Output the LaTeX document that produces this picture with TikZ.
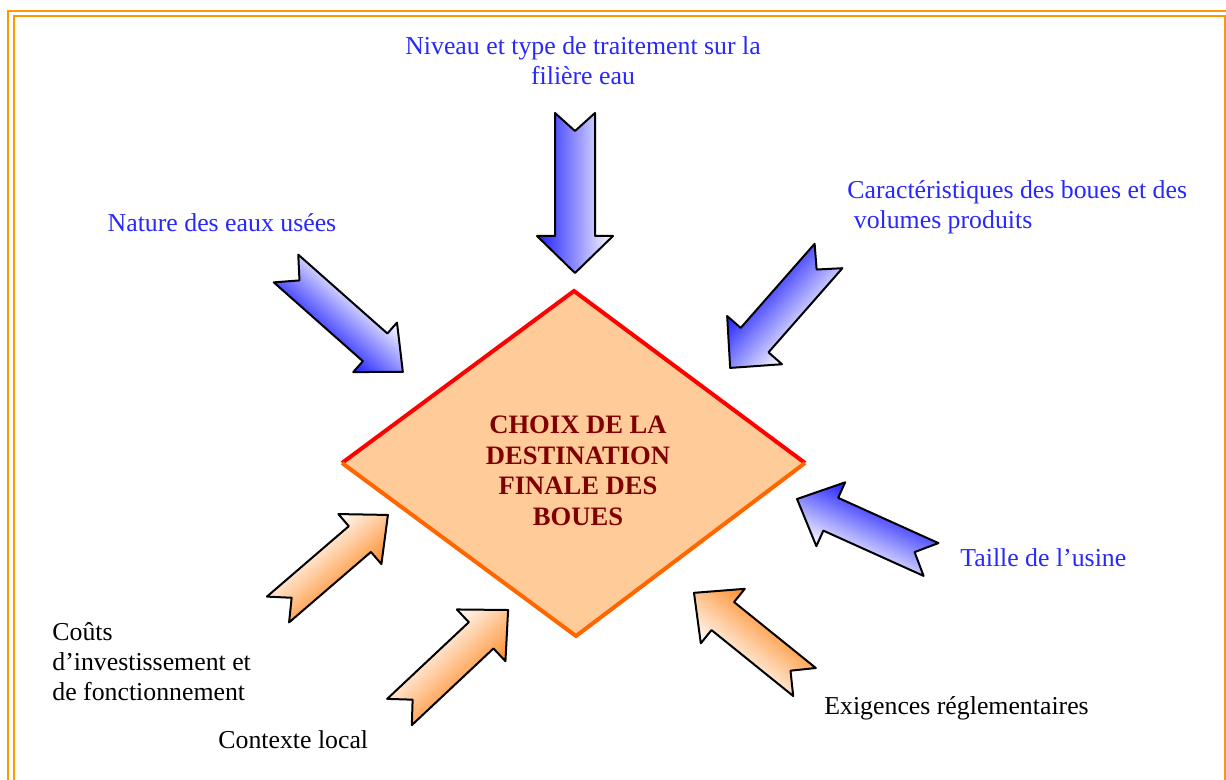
\documentclass[tikz,border=0pt]{standalone}
\usepackage{fontspec}
\setmainfont{Liberation Serif}
\definecolor{cadre}{RGB}{255,153,0}
\definecolor{bleutexte}{RGB}{40,40,250}
\definecolor{bleufleche}{RGB}{30,30,255}
\definecolor{orangefleche}{RGB}{255,140,40}
\definecolor{peche}{RGB}{255,204,153}
\definecolor{rougebord}{RGB}{255,0,0}
\definecolor{orangebord}{RGB}{255,102,0}
\definecolor{rougetitre}{RGB}{128,0,0}
\tikzset{
  cadre/.style={draw=cadre, line width=1.3pt},
  flechebleue/.style={draw=black, line width=1pt, line join=round,
    top color=white, bottom color=bleufleche},
  flecheorange/.style={draw=black, line width=1pt, line join=round,
    top color=white, bottom color=orangefleche},
  etiquette/.style={inner sep=0pt, font=\fontsize{12.9}{15}\selectfont},
  bleu/.style={etiquette, text=bleutexte},
  noir/.style={etiquette, text=black}
}
% fleche a queue entaillee : style, queue, angle, longueur, corps, tete
\newcommand\fleche[6]{%
  \begin{scope}[transform canvas={shift={#2},rotate=#3}]
    \draw[#1] (0,-#5/2) -- (18,0) -- (0,#5/2) -- (#4-37,#5/2) -- (#4-37,#6/2)
      -- (#4,0) -- (#4-37,-#6/2) -- (#4-37,-#5/2) -- cycle;
  \end{scope}}
\begin{document}
\begin{tikzpicture}[x=0.5pt,y=-0.5pt]
  \useasboundingbox (0,0) rectangle (1226,780);
  % double cadre
  \draw[cadre] (8,11) rectangle (1234,788);
  \draw[cadre] (14,16) rectangle (1225,782);
  % losange central
  \coordinate (haut) at (574,291);
  \coordinate (gauche) at (342,463);
  \coordinate (droite) at (805,463);
  \coordinate (bas) at (576,636);
  \fill[peche] (haut) -- (droite) -- (bas) -- (gauche) -- cycle;
  \draw[rougebord, line width=2pt] (gauche) -- (haut) -- (droite);
  \draw[orangebord, line width=2pt] (gauche) -- (bas) -- (droite);
  \node[etiquette, text=rougetitre, align=center, font=\fontsize{13.3}{15.25}\selectfont\bfseries]
    (choix) at (578,471) {CHOIX DE LA\\DESTINATION\\FINALE DES\\BOUES};
  % fleches bleues
  \fleche{flechebleue}{(575,113)}{-90}{160}{40}{76}
  \fleche{flechebleue}{(286,268.5)}{-41.5}{156}{37}{66}
  \fleche{flechebleue}{(828.5,256)}{-131.3}{149}{37}{73}
  \fleche{flechebleue}{(931,559.5)}{155.7}{147}{36}{70}
  % fleches orange
  \fleche{flecheorange}{(278,609.5)}{40.7}{145}{34}{66}
  \fleche{flecheorange}{(399.5,712)}{43.2}{149}{36}{71}
  \fleche{flecheorange}{(804.5,682)}{141.1}{142}{36}{70}
  % etiquettes
  \node[bleu, align=center] (niveau) at (583,61)
    {Niveau et type de traitement sur la\\filière eau};
  \node[bleu] (nature) at (222,223) {Nature des eaux usées};
  \node[bleu, align=left, anchor=west] (caract) at (847,207)
    {Caractéristiques des boues et des\\\hspace{0.25em}volumes produits};
  \node[bleu, anchor=west] (taille) at (960,558) {Taille de l’usine};
  \node[noir, align=left, anchor=west] (couts) at (52,662)
    {Coûts\\d’investissement et\\de fonctionnement};
  \node[noir, anchor=west] (contexte) at (218,740) {Contexte local};
  \node[noir, anchor=west] (exigences) at (824,708) {Exigences réglementaires};
\end{tikzpicture}
\end{document}
